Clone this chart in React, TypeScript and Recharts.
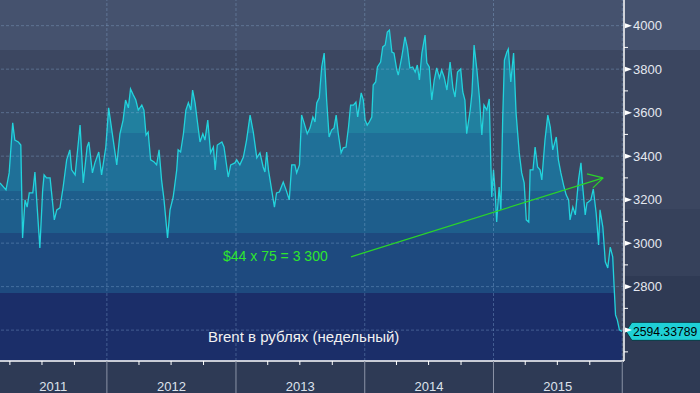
import { AreaChart, Area, XAxis, YAxis, ReferenceLine, ReferenceDot } from "recharts";

// weekly Brent in roubles, x = days since 2011-01-01
const days = [
  62, 79, 88, 98, 104, 114, 121, 126, 133, 139, 145, 155, 161, 166, 175, 183, 187, 194, 204, 216,
  223, 232, 241, 251, 260, 265, 275, 289, 298, 309, 314, 324, 331, 342, 350, 362, 370, 383, 393, 402,
  411, 418, 426, 432, 440, 447, 454, 464, 470, 476, 482, 489, 499, 506, 513, 520, 527, 537, 544, 553,
  563, 567, 574, 582, 589, 596, 603, 608, 615, 621, 629, 637, 643, 651, 659, 667, 672, 678, 691, 697,
  709, 716, 728, 733, 742, 752, 761, 771, 780, 790, 799, 808, 813, 818, 823, 840, 846, 854, 865, 873,
  882, 889, 898, 903, 911, 917, 924, 933, 941, 949, 955, 960, 967, 974, 981, 988, 995, 1002, 1009, 1015,
  1021, 1029, 1035, 1043, 1050, 1056, 1064, 1071, 1076, 1086, 1092, 1097, 1103, 1109, 1116, 1120, 1127, 1132, 1141, 1147,
  1154, 1160, 1166, 1173, 1179, 1187, 1191, 1201, 1210, 1217, 1224, 1232, 1239, 1245, 1251, 1258, 1267, 1272, 1279, 1286,
  1293, 1300, 1308, 1314, 1321, 1329, 1338, 1346, 1352, 1359, 1368, 1374, 1380, 1385, 1395, 1400, 1406, 1414, 1421, 1428,
  1434, 1442, 1449, 1453, 1456, 1461, 1466, 1470, 1477, 1482, 1487, 1492, 1499, 1503, 1510, 1518, 1525, 1534, 1541, 1548,
  1554, 1561, 1565, 1573, 1579, 1586, 1593, 1598, 1607, 1615, 1622, 1629, 1639, 1645, 1652, 1661, 1667, 1674, 1678, 1686,
  1693, 1697, 1702, 1709, 1714, 1721, 1726, 1730, 1737, 1744, 1752, 1759, 1763, 1771, 1778, 1785, 1792, 1799, 1803, 1807,
  1812, 1818, 1825,
];
const rub = [
  3277, 3245, 3323, 3553, 3474, 3465, 3451, 3024, 3199, 3166, 3231, 3231, 3327, 3199, 2978, 3245, 3314, 3300, 3300, 3107,
  3153, 3162, 3258, 3383, 3429, 3337, 3314, 3543, 3277, 3442, 3465, 3323, 3369, 3419, 3314, 3442, 3622, 3474, 3360, 3503,
  3566, 3658, 3622, 3709, 3681, 3658, 3612, 3635, 3612, 3497, 3511, 3383, 3373, 3360, 3429, 3291, 3199, 3024, 3153, 3212,
  3337, 3429, 3419, 3503, 3612, 3645, 3612, 3704, 3645, 3566, 3465, 3503, 3474, 3566, 3415, 3442, 3337, 3451, 3465, 3442,
  3304, 3360, 3369, 3383, 3360, 3396, 3474, 3589, 3511, 3392, 3415, 3350, 3327, 3419, 3337, 3166, 3231, 3235, 3281, 3245,
  3199, 3360, 3360, 3323, 3360, 3589, 3553, 3503, 3530, 3580, 3557, 3645, 3668, 3810, 3874, 3658, 3488, 3520, 3530, 3589,
  3503, 3415, 3438, 3442, 3534, 3635, 3635, 3649, 3580, 3691, 3658, 3566, 3543, 3557, 3580, 3727, 3741, 3810, 3833, 3902,
  3911, 3971, 3980, 3879, 3874, 3796, 3773, 3856, 3948, 3898, 3806, 3810, 3787, 3819, 3750, 3874, 3957, 3829, 3810, 3658,
  3750, 3806, 3760, 3796, 3764, 3704, 3833, 3714, 3672, 3787, 3801, 3695, 3658, 3503, 3612, 3691, 3911, 3796, 3672, 3497,
  3635, 3612, 3663, 3396, 3212, 3337, 3231, 3097, 3258, 3153, 3566, 3842, 3879, 3893, 3741, 3874, 3599, 3415, 3323, 3277,
  3107, 3097, 3337, 3337, 3442, 3350, 3337, 3291, 3474, 3589, 3534, 3429, 3488, 3383, 3323, 3258, 3222, 3199, 3107, 3166,
  3130, 3199, 3291, 3369, 3258, 3130, 3185, 3189, 3199, 3249, 3139, 2992, 3153, 3074, 2914, 2886, 2982, 2937, 2799, 2670,
  2647, 2601, 2594.33789,
];

const yearLabels = ["2011", "2012", "2013", "2014", "2015"];
const yearMid = [213, 548, 913, 1278, 1643];
const yearStarts = [365, 731, 1096, 1461, 1826];
const quarterDays = [90, 181, 273, 456, 547, 639, 821, 912, 1004, 1186, 1277, 1369, 1551, 1642, 1734];

const majorTicks = [2600, 2800, 3000, 3200, 3400, 3600, 3800, 4000];
const minorTicks = [2500, 2700, 2900, 3100, 3300, 3500, 3700, 3900];

// colour bands of the filled area (value edges, top to bottom)
const bandEdges = [3888, 3507, 3240, 3047, 2771];
const bandColors = ["#2587a5", "#21809f", "#1f7098", "#1e5e8c", "#1e4a7f", "#1b2e69"];

const arrowFrom = [1057, 2937];
const arrowTo = [1772, 3300];
const headUp = [1726, 3318];
const headDown = [1743, 3254];
const lastValue = 2594.33789;

const xDomain = [62, 1831];
const yDomain = [2458, 4118];

const data = days.map((d, i) => ({ day: d, rub: rub[i] }));

const FONT = "'Liberation Sans', Arial, sans-serif";
const PLOT_H = 361;

const off = (v: number) => (yDomain[1] - v) / (yDomain[1] - yDomain[0]);

function XTick(props: any) {
  const { x, y, payload } = props;
  const v = payload.value;
  const li = yearMid.indexOf(v);
  if (li >= 0) {
    return (
      <text x={x} y={y + 30} textAnchor="middle" fill="#dde2ec" fontSize={13} fontFamily={FONT}>
        {yearLabels[li]}
      </text>
    );
  }
  if (yearStarts.includes(v)) {
    return <line x1={x} x2={x} y1={y} y2={y + 32} stroke="#8b93a6" strokeWidth={1} />;
  }
  return <line x1={x} x2={x} y1={y} y2={y + 4} stroke="#ffffff" strokeWidth={1} />;
}

function YTick(props: any) {
  const { x, y, payload } = props;
  const v = payload.value;
  if (majorTicks.includes(v)) {
    return (
      <g>
        <path d={`M${x + 1},${y - 2.5} L${x + 8},${y} L${x + 1},${y + 2.5} Z`} fill="#ffffff" />
        {v >= 2800 && (
          <text x={x + 9} y={y} dy="0.36em" fill="#e4e8f0" fontSize={13} fontFamily={FONT}>
            {v}
          </text>
        )}
      </g>
    );
  }
  return <line x1={x} x2={x + 4} y1={y} y2={y} stroke="#ffffff" strokeWidth={1} />;
}

function LastLabel(props: any) {
  const { cx, cy } = props;
  const tx = cx + 4;
  return (
    <g>
      <path
        d={`M${tx},${cy} L${tx + 6},${cy - 9} L${tx + 80},${cy - 9} L${tx + 80},${cy + 9} L${tx + 6},${cy + 9} Z`}
        fill="#1fd0d6"
        stroke="#0b3a44"
        strokeWidth={1}
      />
      <text x={tx + 7} y={cy} dy="0.36em" fill="#000" fontSize={12.2} fontFamily={FONT}>
        {lastValue.toFixed(5)}
      </text>
    </g>
  );
}

const grid = { stroke: "#8fb4dc", strokeOpacity: 0.35, strokeDasharray: "3 2" };
const green = "#2ad42a";

export default function App() {
  return (
    <div style={{ position: "absolute", left: 0, top: 0, width: 700, height: 393, overflow: "hidden" }}>
      <div
        style={{
          position: "absolute", left: 0, top: 0, width: 624, height: PLOT_H,
          background: "linear-gradient(to bottom, #45526e 0px, #45526e 50px, #3c4761 50px)",
        }}
      />
      <div
        style={{
          position: "absolute", left: 624, top: 0, width: 76, height: 393,
          background:
            "linear-gradient(to bottom, #45526e 0px, #45526e 50px, #3b4660 50px, #3b4660 209px, #36415b 209px, #36415b 276px, #2f3a54 276px)",
        }}
      />
      <div style={{ position: "absolute", left: 0, top: PLOT_H, width: 624, height: 32, background: "#2e3a55" }} />

      <div style={{ position: "absolute", left: 0, top: 0 }}>
        <AreaChart width={700} height={393} data={data} margin={{ top: 0, right: 0, bottom: 0, left: 0 }}>
          <defs>
            <linearGradient id="bands" gradientUnits="userSpaceOnUse" x1={0} y1={0} x2={0} y2={PLOT_H}>
              {bandColors.map((c, i) => {
                const a = i === 0 ? 0 : off(bandEdges[i - 1]);
                const b = i === bandColors.length - 1 ? 1 : off(bandEdges[i]);
                return [
                  <stop key={`a${i}`} offset={a} stopColor={c} />,
                  <stop key={`b${i}`} offset={b} stopColor={c} />,
                ];
              })}
            </linearGradient>
          </defs>
          <XAxis
            dataKey="day"
            type="number"
            domain={xDomain}
            allowDataOverflow
            ticks={[...quarterDays, ...yearStarts, ...yearMid].sort((a, b) => a - b)}
            interval={0}
            height={32}
            tickSize={0}
            tickMargin={0}
            tickLine={false}
            axisLine={{ stroke: "#ffffff", strokeWidth: 1.5 }}
            tick={XTick}
          />
          <YAxis
            orientation="right"
            type="number"
            domain={yDomain}
            allowDataOverflow
            ticks={[...majorTicks, ...minorTicks].sort((a, b) => a - b)}
            interval={0}
            width={76}
            tickSize={0}
            tickMargin={0}
            tickLine={false}
            axisLine={{ stroke: "#ffffff", strokeWidth: 1.5 }}
            tick={YTick}
          />
          <Area
            type="linear"
            dataKey="rub"
            stroke="#22d3dc"
            strokeWidth={1.3}
            fill="url(#bands)"
            fillOpacity={1}
            dot={false}
            activeDot={false}
            isAnimationActive={false}
          />
          {majorTicks.map((v) => (
            <ReferenceLine key={`h${v}`} y={v} {...grid} />
          ))}
          {yearStarts.map((d) => (
            <ReferenceLine key={`v${d}`} x={d} {...grid} />
          ))}
          <ReferenceLine
            segment={[{ x: arrowFrom[0], y: arrowFrom[1] }, { x: arrowTo[0], y: arrowTo[1] }]}
            stroke={green}
            strokeWidth={1.3}
          />
          <ReferenceLine
            segment={[{ x: headUp[0], y: headUp[1] }, { x: arrowTo[0], y: arrowTo[1] }]}
            stroke={green}
            strokeWidth={1.3}
          />
          <ReferenceLine
            segment={[{ x: headDown[0], y: headDown[1] }, { x: arrowTo[0], y: arrowTo[1] }]}
            stroke={green}
            strokeWidth={1.3}
          />
          <ReferenceDot x={days[days.length - 1]} y={lastValue} r={0} shape={LastLabel} />
        </AreaChart>
      </div>

      <div
        style={{
          position: "absolute", left: 223, top: 249, fontFamily: FONT, fontSize: 14,
          lineHeight: "14px", color: "#2ee62e", whiteSpace: "nowrap",
        }}
      >
        $44 x 75 = 3 300
      </div>
      <div
        style={{
          position: "absolute", left: 208, top: 329, fontFamily: FONT, fontSize: 15,
          lineHeight: "15px", color: "#f2f2f2", whiteSpace: "nowrap",
        }}
      >
        Brent в рублях (недельный)
      </div>
    </div>
  );
}
